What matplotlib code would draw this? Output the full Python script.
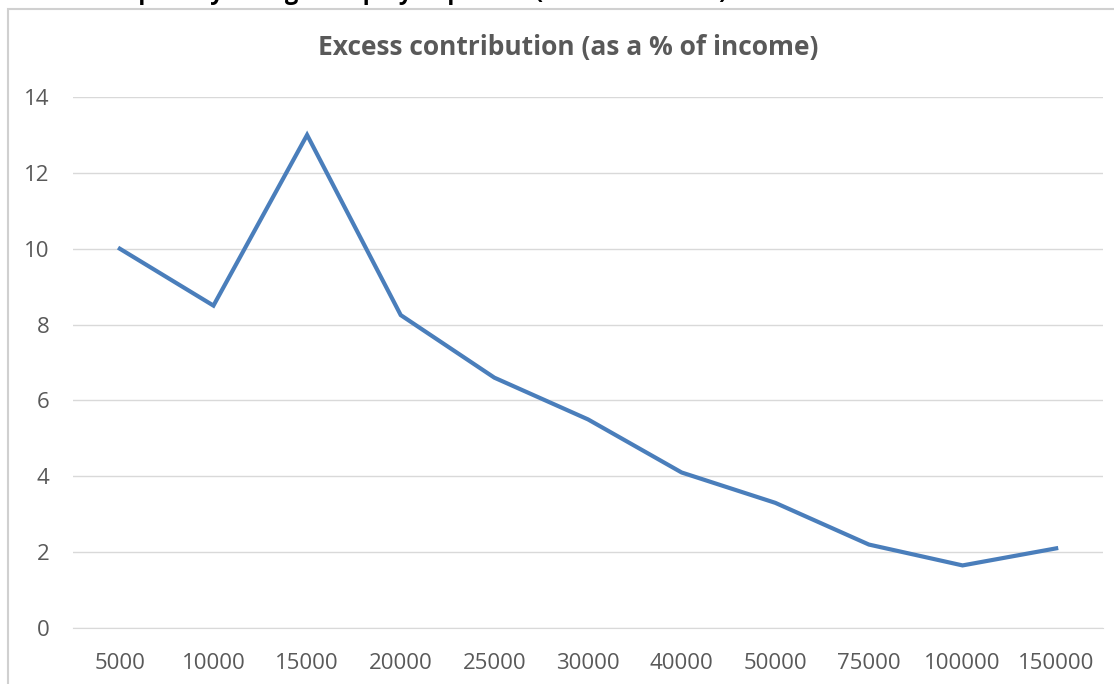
import matplotlib.pyplot as plt
from matplotlib.patches import Rectangle

incomes = ["5000", "10000", "15000", "20000", "25000", "30000",
           "40000", "50000", "75000", "100000", "150000"]
excess = [10.0, 8.5, 13.0, 8.25, 6.6, 5.5, 4.1, 3.3, 2.2, 1.65, 2.1]
yticks = [0, 2, 4, 6, 8, 10, 12, 14]

W, H = 1114, 684
fig = plt.figure(figsize=(W / 100, H / 100), dpi=100)
plt.rcParams['font.family'] = ['Open Sans', 'DejaVu Sans']

# chart frame (cut off at right and bottom)
fig.patches.append(Rectangle((7.5 / W, -0.1), 1.2, 1 - 9.5 / H + 0.1,
                             transform=fig.transFigure, fill=False,
                             edgecolor="#d0d0d0", linewidth=1.5))

# heading above the chart, mostly cut off by the screenshot
fig.text(12 / W, 1 + 1 / H, "Excess tax paid by a single employed person (as % of income)",
         ha="left", va="baseline", fontsize=17, fontweight="bold", color="black")

ax = fig.add_axes([73 / W, 1 - 628 / H, 1030 / W, 531 / H])
x = list(range(len(incomes)))
ax.plot(x, excess, color="#4a7ebb", linewidth=3.0, solid_joinstyle="miter")
ax.set_xlim(-0.5, len(incomes) - 0.5)
ax.set_ylim(0, 14)
ax.set_yticks(yticks)
ax.set_xticks(x)
ax.set_xticklabels(incomes)
ax.grid(axis="y", color="#d9d9d9", linewidth=1)
ax.set_axisbelow(True)
for s in ["top", "right", "left"]:
    ax.spines[s].set_visible(False)
ax.spines["bottom"].set_color("#d9d9d9")
ax.tick_params(length=0, labelsize=16, labelcolor="#595959")
ax.tick_params(axis="y", pad=17)
ax.tick_params(axis="x", pad=18)

fig.text(568 / W, 1 - 48 / H, "Excess contribution (as a % of income)",
         ha="center", va="center", fontsize=19, fontweight="bold", color="#595959")

fig.savefig("out.png", dpi=100)
